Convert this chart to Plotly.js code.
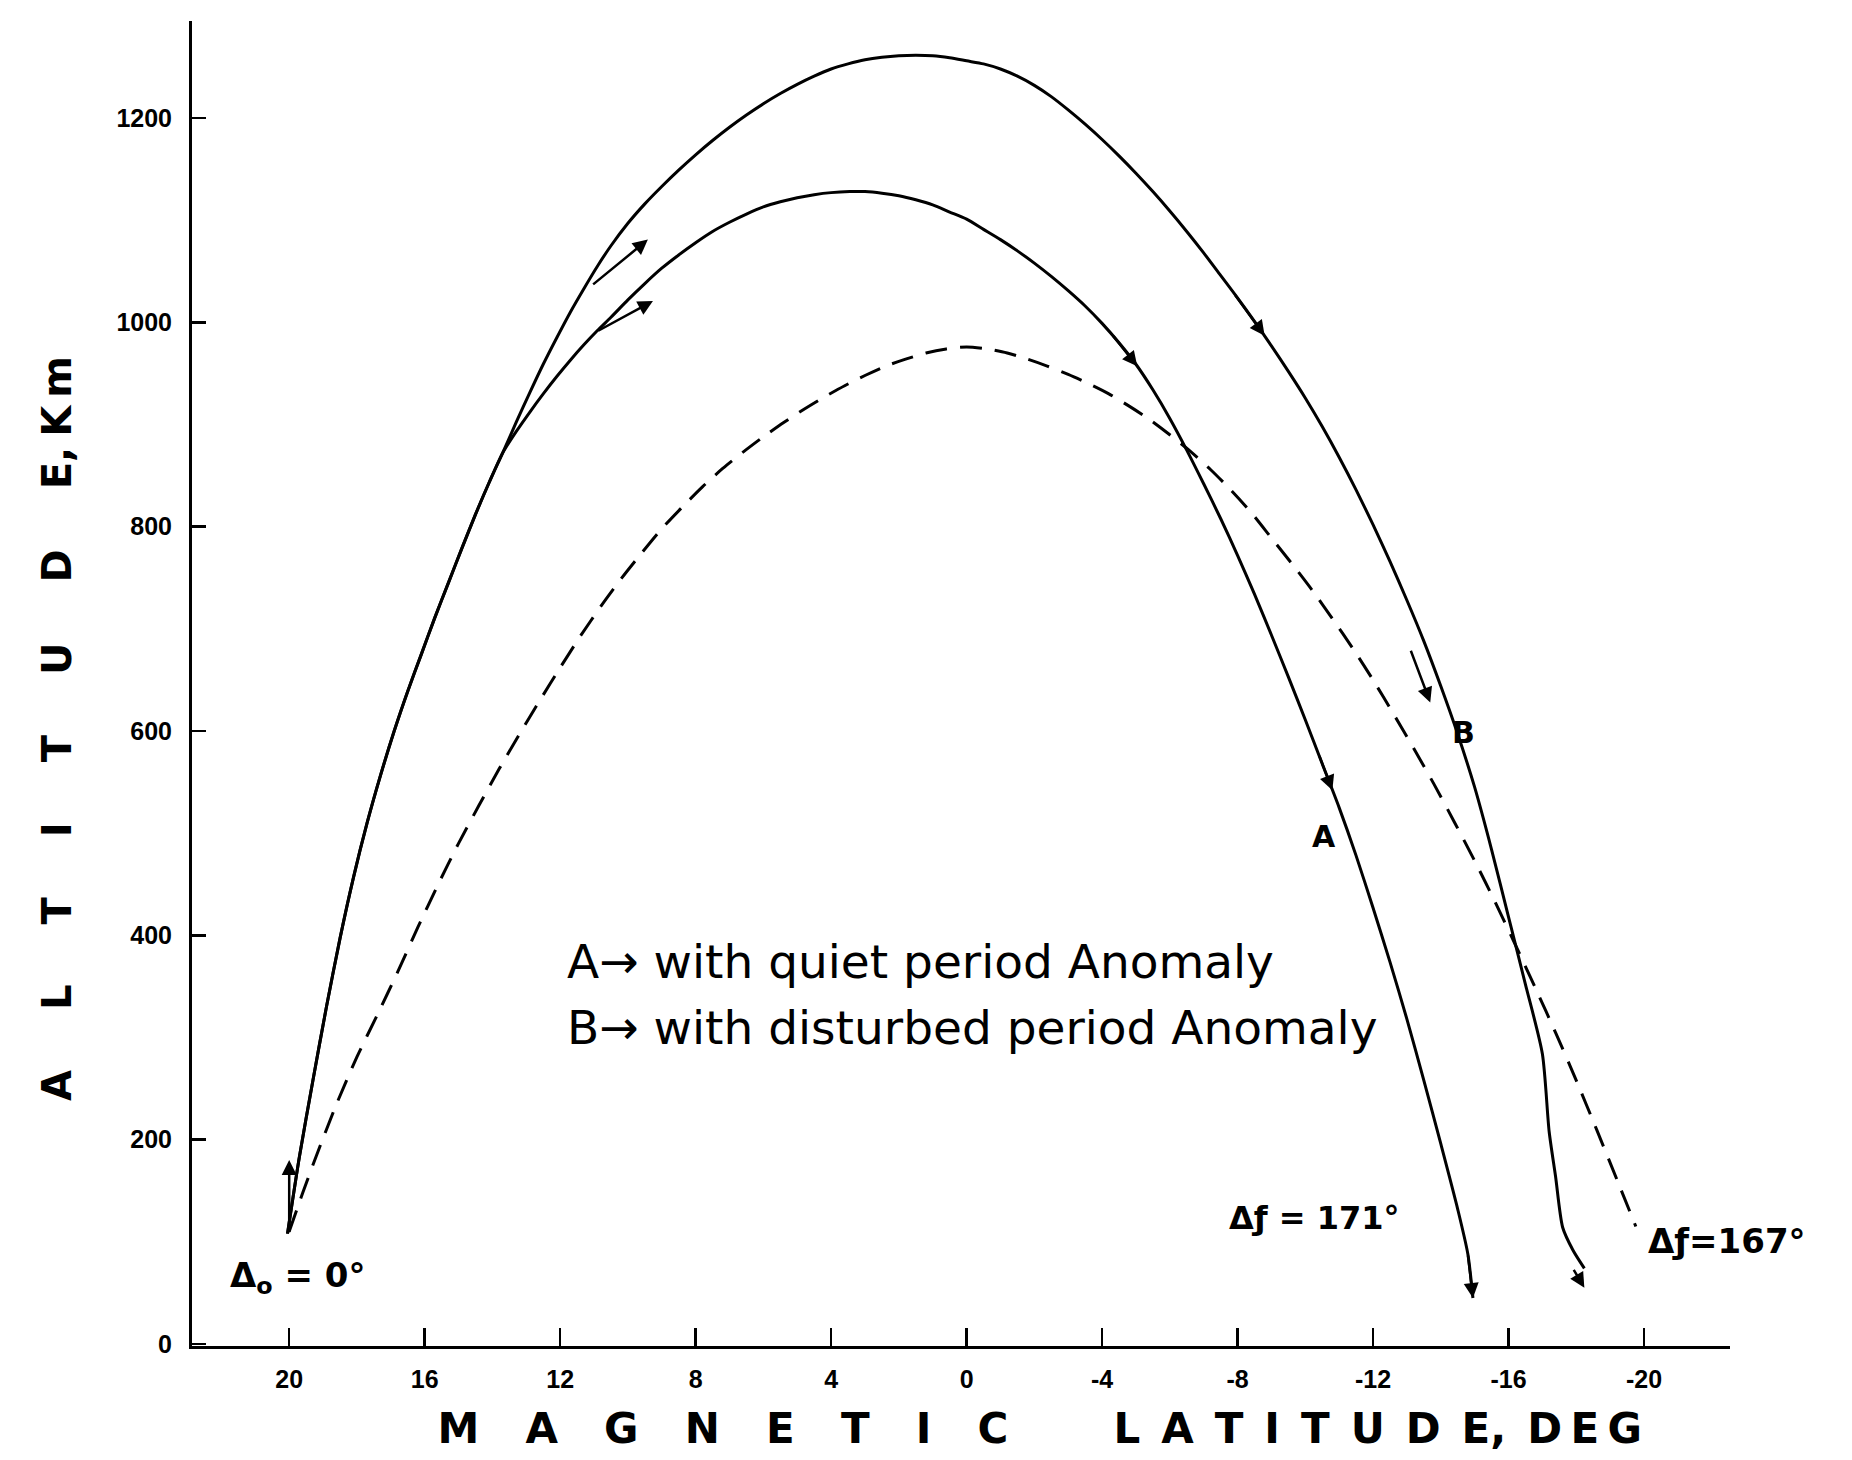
<!DOCTYPE html>
<html><head><meta charset="utf-8">
<script src="https://cdn.plot.ly/plotly-3.0.1.min.js"></script>
<style>html,body{margin:0;padding:0;background:#fff}</style>
</head><body><div id="chart" style="width:1852px;height:1460px"></div>
<script>
// Curve B: with disturbed period anomaly (upper solid)
const latB = [20.05,19.7,19.3,18.9,18.5,18.1,17.7,17.3,16.9,16.5,16.1,15.7,15.3,14.9,14.5,14.1,13.7,13.3,12.9,12.5,12.1,11.7,11.3,10.9,10.5,10.0,9.5,9.0,8.5,8.0,7.5,7.0,6.5,6.0,5.5,5.0,4.5,4.0,3.5,3.0,2.5,2.0,1.5,1.0,0.5,0.0,-0.5,-1.0,-1.5,-2.0,-2.5,-3.0,-3.5,-4.0,-4.5,-5.0,-5.5,-6.0,-6.5,-7.0,-7.5,-8.0,-8.5,-9.0,-9.5,-10.0,-10.5,-11.0,-11.5,-12.0,-12.5,-13.0,-13.5,-14.0,-14.5,-15.0,-15.5,-16.0,-16.5,-17.0,-17.2,-17.39,-17.6,-17.9,-18.24];
const altB = [108,183,258,330,397,457,510,557,600,639,675,711,745,779,812,843,872,902,931,959,985,1010,1033,1055,1075,1097,1116,1133,1149,1164,1178,1191,1203,1214,1224,1233,1241,1248,1253,1257,1259.5,1261,1261.5,1261,1259,1256,1253,1248,1241,1232,1221,1208,1194,1179,1163,1146,1128,1109,1089,1068,1046,1024,1001,977,952,926,898,868,836,802,766,728,688,644,597,545,484,418,352,284,208,164,114,92,74,55];

// Curve A: with quiet period anomaly (middle solid)
const latA = [20.05,19.7,19.3,18.9,18.5,18.1,17.7,17.3,16.9,16.5,16.1,15.7,15.3,14.9,14.5,14.1,13.7,13.3,12.9,12.5,12.1,11.7,11.3,10.9,10.5,10.0,9.5,9.0,8.5,8.0,7.5,7.0,6.5,6.0,5.5,5.0,4.5,4.0,3.45,3.0,2.5,2.0,1.5,1.0,0.5,0.0,-0.5,-1.0,-1.5,-2.0,-2.5,-3.0,-3.5,-4.0,-4.5,-5.0,-5.5,-6.0,-6.5,-7.0,-7.5,-8.0,-8.5,-9.0,-9.5,-10.0,-10.5,-11.0,-11.5,-12.0,-12.5,-13.0,-13.5,-14.0,-14.5,-14.8,-14.95];
const altA = [108,183,258,330,397,457,510,557,600,639,675,711,745,779,812,843,872,893,912,930,947,963,978,992,1005,1022,1038,1053,1066,1078,1089,1098,1106,1113,1118,1122,1125,1127,1128,1128,1126.5,1124,1120,1115,1108,1101,1091,1081,1070,1058,1045,1031,1016,999,980,959,934,906,875,842,808,772,734,694,653,611,568,525,478,427,374,318,258,196,132,88,45];

// Dashed curve: without anomaly
const latN = [20.0,19.6,19.2,18.6,18.0,17.4,16.8,16.2,15.6,15.0,14.4,13.8,13.2,12.6,12.0,11.4,10.8,10.2,9.6,9.0,8.4,7.8,7.2,6.6,6.0,5.4,4.8,4.2,3.6,3.0,2.4,1.8,1.2,0.6,0.0,-0.6,-1.2,-1.8,-2.4,-3.0,-3.6,-4.2,-4.8,-5.4,-6.0,-6.6,-7.2,-7.8,-8.4,-9.0,-9.6,-10.2,-10.8,-11.4,-12.0,-12.6,-13.2,-13.8,-14.4,-15.0,-15.6,-16.2,-16.8,-17.4,-18.0,-18.6,-19.2,-19.76];
const altN = [110,148,184,235,281,322,364,408,450,490,527,563,597,630,662,693,722,749,774,798,819,839,857,873,888,902,915,927,938,948,957,964,970,974,976,974,970,964,957,949,940,930,918,905,890,874,856,836,814,789,764,738,710,681,650,617,583,548,511,473,433,391,348,304,258,210,161,115];

// Direction arrows (tail -> tip)
const arrowTailLat = [20.0, 11.07, 10.92, -4.3, -7.9, -13.1, -10.4, -14.8, -17.9];
const arrowTailAlt = [108, 1036, 991, 988, 1028, 680, 577, 88, 74];
const arrowTipLat  = [20.0, 9.41, 9.26, -5.04, -8.8, -13.69, -10.8, -14.95, -18.24];
const arrowTipAlt  = [180, 1081, 1021, 957, 987, 628, 542, 45, 55];

// Text labels (x given in axis units, or as a fraction of the plot width when outside the axis range)
const labelText = ["A", "B", "Δ<sub>o</sub> = 0°", "Δƒ = 171°", "Δƒ=167°"];
const labelX    = [-10.56, -14.67, 19.73, -10.27, 0.998];
const labelXRef = ["x", "x", "x", "x", "paper"];
const labelAlt  = [497, 599, 65, 123, 101];
const labelSize = [30, 30, 34, 32, 34];

const noteText = ["A→ with quiet period Anomaly", "B→ with disturbed period Anomaly"];
const noteLat = [11.86, 11.86];
const noteAlt = [374, 310];

// Axis ticks
const xTickVals = [20,16,12,8,4,0,-4,-8,-12,-16,-20];
const xTickText = ["20","16","12","8","4","0","-4","-8","-12","-16","-20"];
const yTickVals = [0,200,400,600,800,1000,1200];
const yTickText = ["0","200","400","600","800","1000","1200"];

const FONT = "DejaVu Sans, Liberation Sans, sans-serif";
const TICKFONT = "Liberation Sans, DejaVu Sans, sans-serif";
const E = "\u2003", N = "\u2002", Q = "\u2005", H = "\u200A", TN = "\u2009", Z = "\u200B";

const xTitle = Z + E+E+E+N+Q + ["M","A","G","N","E","T","I","C"].join(E+H) + E+E+N +
  ["L","A","T","I","T","U","D","E"].join(N) + "," + N + ["D","E","G"].join(TN);
const yTitle = ["A","L","T","I","T","U","D","E"].join(E+N) + "," + Q + "K" + TN + "m" + E+E+Q + Z;

const traces = [
  {x: latB, y: altB, mode: "lines", line: {color: "#000", width: 3, shape: "spline", smoothing: 0.7}, hoverinfo: "skip", showlegend: false},
  {x: latA, y: altA, mode: "lines", line: {color: "#000", width: 3, shape: "spline", smoothing: 0.7}, hoverinfo: "skip", showlegend: false},
  {x: latN, y: altN, mode: "lines", line: {color: "#000", width: 3, dash: "22px,13px", shape: "spline", smoothing: 0.7}, hoverinfo: "skip", showlegend: false}
];

const annotations = [];
for (let i = 0; i < arrowTipLat.length; i++) {
  annotations.push({x: arrowTipLat[i], y: arrowTipAlt[i], ax: arrowTailLat[i], ay: arrowTailAlt[i],
    xref: "x", yref: "y", axref: "x", ayref: "y", text: "", showarrow: true,
    arrowhead: 2, arrowsize: 1.2, arrowwidth: 2.5, arrowcolor: "#000", standoff: 0, startstandoff: 0});
}
for (let i = 0; i < labelText.length; i++) {
  annotations.push({x: labelX[i], y: labelAlt[i], xref: labelXRef[i], yref: "y", text: labelText[i], showarrow: false,
    xanchor: "center", yanchor: "middle", font: {family: FONT, size: labelSize[i], color: "#000", weight: "bold"}});
}
for (let i = 0; i < noteText.length; i++) {
  annotations.push({x: noteLat[i], y: noteAlt[i], xref: "x", yref: "y", text: noteText[i], showarrow: false,
    xanchor: "left", yanchor: "middle", font: {family: FONT, size: 47, color: "#000"}});
}

const layout = {
  width: 1852, height: 1460,
  margin: {l: 192, r: 122, t: 21, b: 114},
  paper_bgcolor: "#fff", plot_bgcolor: "#fff",
  showlegend: false,
  xaxis: {
    range: [22.87, -22.54], tickvals: xTickVals, ticktext: xTickText,
    ticks: "inside", ticklen: 18, tickwidth: 2.5, tickcolor: "#000",
    showline: true, linewidth: 3, linecolor: "#000", showgrid: false, zeroline: false,
    tickfont: {family: TICKFONT, size: 25, color: "#000", weight: "bold"},
    ticklabelstandoff: 9,
    title: {text: xTitle, font: {family: FONT, size: 42, color: "#000", weight: "bold"}, standoff: 22}
  },
  yaxis: {
    range: [-2, 1295], tickvals: yTickVals, ticktext: yTickText,
    ticks: "inside", ticklen: 14, tickwidth: 2.5, tickcolor: "#000",
    showline: true, linewidth: 3, linecolor: "#000", showgrid: false, zeroline: false,
    tickfont: {family: TICKFONT, size: 25, color: "#000", weight: "bold"},
    ticklabelstandoff: 12,
    title: {text: yTitle, font: {family: FONT, size: 40, color: "#000", weight: "bold"}, standoff: 33}
  },
  annotations: annotations
};

Plotly.newPlot("chart", traces, layout, {staticPlot: true, displayModeBar: false});
</script>
</body></html>
